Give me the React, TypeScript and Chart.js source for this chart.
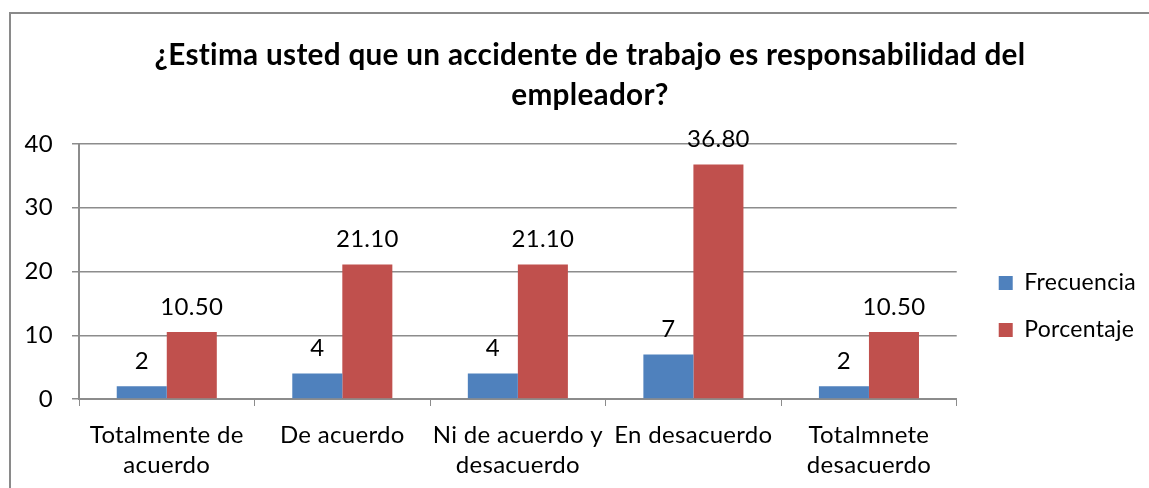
import React, { useEffect, useRef } from "react";
import { Chart, registerables } from "chart.js";

Chart.register(...registerables);

const categories: (string | string[])[] = [
  ["Totalmente de", "acuerdo"],
  "De acuerdo",
  ["Ni de acuerdo y", "desacuerdo"],
  "En desacuerdo",
  ["Totalmnete", "desacuerdo"],
];
const frecuencia = [2, 4, 4, 7, 2];
const porcentaje = [10.5, 21.1, 21.1, 36.8, 10.5];
const titleLines = [
  "¿Estima usted que un accidente de trabajo es responsabilidad del",
  "empleador?",
];
const yTicks = [0, 10, 20, 30, 40];

const FONT = "Lato";
const GRID = "#8c8c8c";
const W = 1143;
const H = 488;

const spacingPlugin = {
  id: "spacing",
  beforeDraw(chart: any) {
    const ctx = chart.ctx;
    ctx.letterSpacing = "0.3px";
    ctx.save();
    ctx.fillStyle = "#ffffff";
    ctx.fillRect(0, 0, chart.width, chart.height);
    ctx.restore();
  },
};

const valueLabels = {
  id: "valueLabels",
  afterDatasetsDraw(chart: any) {
    const ctx = chart.ctx;
    ctx.save();
    ctx.font = `24px ${FONT}`;
    ctx.fillStyle = "#000";
    ctx.textAlign = "center";
    ctx.textBaseline = "middle";
    chart.data.datasets.forEach((ds: any, di: number) => {
      const meta = chart.getDatasetMeta(di);
      meta.data.forEach((bar: any, i: number) => {
        const v = ds.data[i];
        const txt = di === 0 ? String(v) : Number(v).toFixed(2);
        ctx.fillText(txt, bar.x, bar.y - 25);
      });
    });
    ctx.restore();
  },
};

export default function App() {
  const ref = useRef<HTMLCanvasElement>(null);
  useEffect(() => {
    if (!ref.current) return;
    const chart = new Chart(ref.current, {
      type: "bar",
      data: {
        labels: categories,
        datasets: [
          {
            label: "Frecuencia",
            data: frecuencia,
            backgroundColor: "#4F81BD",
            borderWidth: 0,
            categoryPercentage: 0.57,
            barPercentage: 1,
          },
          {
            label: "Porcentaje",
            data: porcentaje,
            backgroundColor: "#C0504D",
            borderWidth: 0,
            categoryPercentage: 0.57,
            barPercentage: 1,
          },
        ],
      },
      options: {
        responsive: false,
        animation: false,
        layout: { padding: { left: 37, right: 0, top: 0, bottom: 8 } },
        plugins: {
          title: {
            display: true,
            text: titleLines,
            color: "#000",
            font: { family: FONT, size: 29.7, weight: "bold", lineHeight: 1.347 },
            padding: { top: 35, bottom: 29 },
          },
          legend: {
            display: true,
            position: "right",
            align: "start",
            fullSize: false,
            title: {
              display: true,
              text: " ",
              font: { size: 10, lineHeight: 1 },
              padding: { top: 93.5, bottom: 0 },
            },
            labels: {
              boxWidth: 14,
              boxHeight: 14,
              padding: 24,
              color: "#000",
              font: { family: FONT, size: 23 },
            },
          },
          tooltip: { enabled: false },
        },
        scales: {
          x: {
            offset: true,
            afterFit: (s: any) => {
              s.height = 81;
            },
            grid: {
              offset: true,
              drawOnChartArea: false,
              drawTicks: true,
              tickLength: 7,
              color: GRID,
            },
            border: { display: true, color: GRID, width: 2 },
            ticks: {
              color: "#000",
              padding: 14,
              maxRotation: 0,
              autoSkip: false,
              font: { family: FONT, size: 24, lineHeight: 1.25 },
            },
          },
          y: {
            min: 0,
            max: 40,
            afterBuildTicks: (s: any) => {
              s.ticks = yTicks.map((v) => ({ value: v }));
            },
            afterFit: (s: any) => {
              s.width = 42;
            },
            afterUpdate: (s: any) => {
              s._computeLabelArea = () => undefined;
            },
            grid: { color: GRID, lineWidth: 1.5, tickLength: 7, drawTicks: true },
            border: { display: true, color: GRID, width: 2 },
            ticks: {
              color: "#000",
              padding: 19,
              font: { family: FONT, size: 24 },
            },
          },
          y2: {
            position: "right",
            display: true,
            grid: { display: false, drawTicks: false },
            border: { display: false },
            ticks: { display: false },
            afterFit: (s: any) => {
              s.width = 18;
            },
          },
        },
      },
      plugins: [spacingPlugin, valueLabels],
    } as any);
    return () => chart.destroy();
  }, []);
  return (
    <div
      style={{
        position: "fixed",
        left: 0,
        top: 0,
        width: 1149,
        height: H,
        overflow: "hidden",
        background: "#fff",
      }}
    >
      <canvas ref={ref} width={W} height={H} style={{ display: "block" }} />
      <div
        style={{
          position: "absolute",
          left: 9,
          top: 12,
          width: 1300,
          height: 600,
          borderLeft: "2px solid #8a8a8a",
          borderTop: "2px solid #8a8a8a",
          pointerEvents: "none",
        }}
      />
    </div>
  );
}
